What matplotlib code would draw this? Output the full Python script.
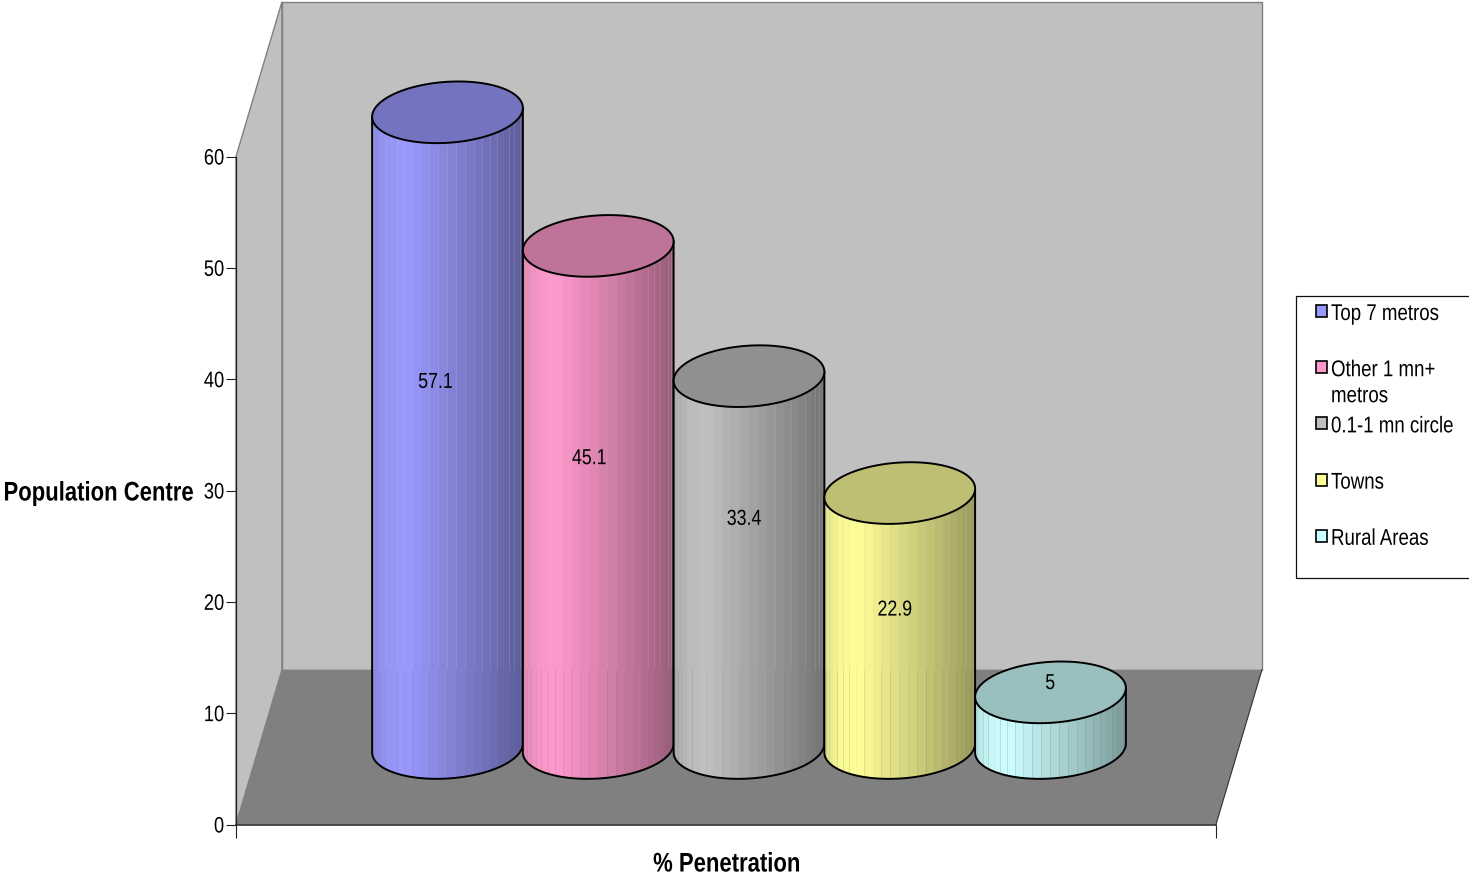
import numpy as np
import matplotlib
matplotlib.use("Agg")
import matplotlib.pyplot as plt
from matplotlib.patches import Polygon, Rectangle
from matplotlib.patheffects import AbstractPathEffect
from matplotlib.transforms import Affine2D

# chart data
categories = ["Top 7 metros", "Other 1 mn+\nmetros", "0.1-1 mn circle", "Towns", "Rural Areas"]
values = [57.1, 45.1, 33.4, 22.9, 5]
value_labels = ["57.1", "45.1", "33.4", "22.9", "5"]
colors = ["#9999FF", "#FF99CC", "#C0C0C0", "#FFFF99", "#CCFFFF"]
y_ticks = [0, 10, 20, 30, 40, 50, 60]

# value label placement relative to the middle of each cylinder
label_dx = [-0.08, -0.06, -0.033, -0.033, -0.002]
label_dy = [4.2, 3.35, 3.75, 0.85, 3.2]

W, H = 1469, 878
FONT = "Liberation Sans"
TALL = 1.22       # glyphs are drawn taller than wide
DEPTH_X = 0.305   # how far the back wall is shifted
DEPTH_Y = 13.9
BASE_Y = 6.87     # cylinder base centre above the front floor edge
A = 0.5           # ellipse half width
B = 2.74          # ellipse half height
SKEW = 0.40       # tilt of the ellipse
N_STRIPS = 26


class StretchY(AbstractPathEffect):
    # stretch glyphs upward from the baseline, gives a condensed look
    def __init__(self, sy, dy=0):
        super().__init__()
        self.sy = sy
        self.dy = dy

    def draw_path(self, renderer, gc, tpath, affine, rgbFace=None):
        tr = Affine2D().scale(1, self.sy) + affine + Affine2D().translate(0, self.dy)
        renderer.draw_path(gc, tpath, tr, rgbFace)


tall = [StretchY(TALL)]
tall_low = [StretchY(TALL, -1.5)]


def shade(t):
    # brightness across the cylinder, t runs 0 (left) to 1 (right)
    return np.interp(t, [0, 0.1, 0.22, 0.5, 0.75, 1], [0.88, 0.97, 1.0, 0.86, 0.74, 0.60])


def ellipse_pt(cx, cy, t):
    return cx + A * np.cos(t), cy + B * np.sin(t) + SKEW * np.cos(t)


def draw_cylinder(ax, cx, value, color, z):
    rgb = np.array(matplotlib.colors.to_rgb(color))
    y0 = BASE_Y
    y1 = BASE_Y + value

    # side wall as thin vertical strips around the front half
    angles = np.linspace(np.pi, 2 * np.pi, N_STRIPS + 1)
    for i in range(N_STRIPS):
        t = np.linspace(angles[i], angles[i + 1], 6)
        xs, low = ellipse_pt(cx, y0, t)
        _, high = ellipse_pt(cx, y1, t)
        pts = np.r_[np.c_[xs, low], np.c_[xs, high][::-1]]
        mid = 0.5 * (1 + np.cos(0.5 * (angles[i] + angles[i + 1])))
        ax.add_patch(Polygon(pts, closed=True, facecolor=rgb * shade(mid), edgecolor="none",
                             antialiased=True, zorder=z, clip_on=False))

    # outline of side wall
    t = np.linspace(np.pi, 2 * np.pi, 120)
    xs, low = ellipse_pt(cx, y0, t)
    _, high = ellipse_pt(cx, y1, t)
    ax.plot(np.r_[xs[0], xs, xs[-1]], np.r_[high[0], low, high[-1]], color="black", lw=1.4,
            zorder=z + 0.1, clip_on=False, solid_joinstyle="round")

    # top face
    t = np.linspace(0, 2 * np.pi, 200)
    xs, ys = ellipse_pt(cx, y1, t)
    ax.add_patch(Polygon(np.c_[xs, ys], closed=True, facecolor=rgb * 0.75, edgecolor="black",
                         lw=1.4, zorder=z + 0.2, clip_on=False))


fig = plt.figure(figsize=(W / 100, H / 100), dpi=100, facecolor="white")
ax = fig.add_axes([236 / W, (H - 825.5) / H, 980 / W, 668 / H])
ax.set_xlim(-1.403, 5.098)
ax.set_ylim(0, 60)

x0, x1 = ax.get_xlim()
top = 60 + DEPTH_Y

# walls and floor
back_wall = [(x0 + DEPTH_X, DEPTH_Y), (x1 + DEPTH_X, DEPTH_Y), (x1 + DEPTH_X, top), (x0 + DEPTH_X, top)]
side_wall = [(x0, 0), (x0 + DEPTH_X, DEPTH_Y), (x0 + DEPTH_X, top), (x0, 60)]
floor = [(x0, 0), (x1, 0), (x1 + DEPTH_X, DEPTH_Y), (x0 + DEPTH_X, DEPTH_Y)]
ax.patch.set_visible(False)
ax.add_patch(Polygon(back_wall, closed=True, fc="#C0C0C0", ec="#808080", lw=1.0, clip_on=False, zorder=1))
ax.add_patch(Polygon(side_wall, closed=True, fc="#C0C0C0", ec="#808080", lw=1.0, clip_on=False, zorder=1))
ax.add_patch(Polygon(floor, closed=True, fc="#808080", ec="none", clip_on=False, zorder=1.5))
ax.plot([x1, x1 + DEPTH_X], [0, DEPTH_Y], color="#303030", lw=0.8, clip_on=False, zorder=1.6)

# cylinders
for i, (val, col) in enumerate(zip(values, colors)):
    draw_cylinder(ax, i, val, col, 3 + i)

# value labels
for i, (val, txt) in enumerate(zip(values, value_labels)):
    ax.text(i + label_dx[i], BASE_Y + val / 2 + label_dy[i], txt, ha="center", va="center",
            family=FONT, fontsize=12.8, color="black", zorder=20, path_effects=tall)

# axes
for s in ["top", "right"]:
    ax.spines[s].set_visible(False)
ax.spines["left"].set_linewidth(0.9)
ax.spines["left"].set_color("#202020")
ax.spines["bottom"].set_linewidth(1.1)
ax.spines["bottom"].set_color("#202020")
for s in ax.spines.values():
    s.set_zorder(2)
ax.set_yticks(y_ticks)
ax.set_yticklabels([str(v) for v in y_ticks], family=FONT, fontsize=13.2)
for lab in ax.get_yticklabels():
    lab.set_path_effects(tall_low)
ax.tick_params(axis="y", length=7.5, width=0.8, pad=1, color="#202020")
ax.set_xticks([x0, x1])
ax.set_xticklabels([])
ax.tick_params(axis="x", length=9, width=0.8, color="#202020")

ax.set_xlabel("% Penetration", family=FONT, fontsize=15.9, fontweight="bold", path_effects=tall)
ax.xaxis.set_label_coords((727 - 236) / 980, (825.5 - 872.5) / 668)
ax.xaxis.label.set_va("baseline")
ax.set_ylabel("Population Centre", family=FONT, fontsize=15.9, fontweight="bold", rotation=0,
              ha="right", va="baseline", path_effects=tall)
ax.yaxis.set_label_coords((194 - 236) / 980, (825.5 - 501.5) / 668)

# legend, laid out on its own pixel layer
leg = fig.add_axes([0, 0, 1, 1], zorder=10)
leg.set_xlim(0, W)
leg.set_ylim(H, 0)
leg.axis("off")
leg.add_patch(Rectangle((1296.5, 296.5), 200, 282, fc="white", ec="#101010", lw=0.9))
for i, (name, col) in enumerate(zip(categories, colors)):
    yc = 312.5 + 56.2 * i
    leg.add_patch(Rectangle((1316, yc - 6.5), 11, 12, fc=col, ec="black", lw=1.2))
    for j, line in enumerate(name.split("\n")):
        leg.text(1331, yc + 8.5 + 26 * j, line, family=FONT, fontsize=13.45, va="baseline", ha="left",
                 path_effects=tall)

fig.savefig("out.png", dpi=100)
